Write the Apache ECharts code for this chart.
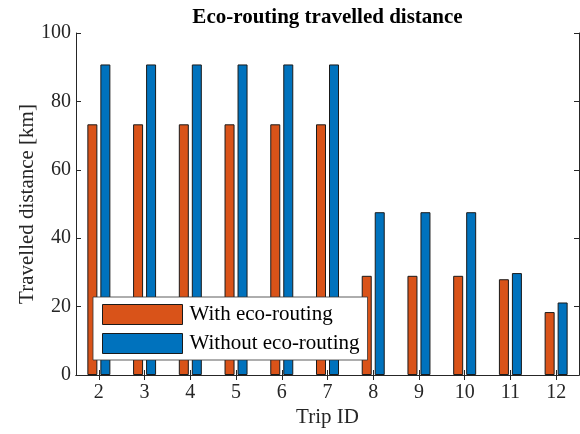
<!DOCTYPE html>
<html>
<head>
<meta charset="utf-8">
<script src="https://cdn.jsdelivr.net/npm/echarts@6/dist/echarts.min.js"></script>
<style>
  html, body { margin: 0; padding: 0; background: #fff; }
  #chart { width: 580px; height: 434px; }
</style>
</head>
<body>
<div id="chart"></div>
<script>
// Trip identifiers along the x axis
const tripIds = ['2', '3', '4', '5', '6', '7', '8', '9', '10', '11', '12'];
// Travelled distance per trip [km]
const withEco = [73.3, 73.3, 73.3, 73.3, 73.3, 73.3, 29.0, 29.0, 29.0, 28.0, 18.4];
const withoutEco = [90.8, 90.8, 90.8, 90.8, 90.8, 90.8, 47.6, 47.6, 47.6, 29.8, 21.2];
// Series names
const seriesNames = ['With eco-routing', 'Without eco-routing'];
const yTicks = { min: 0, max: 100, interval: 20 };

const FONT = '"Liberation Serif", "Times New Roman", serif';
const AXIS_COLOR = '#262626';
const GRID = { left: 76, top: 33, right: 1, bottom: 59 };

const chart = echarts.init(document.getElementById('chart'), null, { renderer: 'canvas' });

const tickStyle = { show: true, inside: true, length: 5, lineStyle: { color: AXIS_COLOR, width: 1 } };
const lineStyle = { show: true, lineStyle: { color: AXIS_COLOR, width: 1 } };

chart.setOption({
  animation: false,
  backgroundColor: '#fff',
  grid: Object.assign({ containLabel: false, outerBoundsMode: 'none' }, GRID),
  graphic: [{
    type: 'text',
    x: GRID.left + (580 - GRID.left - GRID.right) / 2,
    y: 7,
    style: {
      text: 'Eco-routing travelled distance',
      font: 'bold 21px ' + FONT,
      fill: '#000',
      textAlign: 'center',
      textVerticalAlign: 'top'
    }
  }],
  legend: {
    orient: 'vertical',
    left: 93,
    top: 297,
    padding: [7, 8, 6, 9],
    itemWidth: 80,
    itemHeight: 20,
    itemGap: 8,
    icon: 'rect',
    backgroundColor: '#fff',
    borderColor: '#333',
    borderWidth: 0.8,
    textStyle: { fontFamily: FONT, fontSize: 21, lineHeight: 20, color: '#000', padding: [0, 0, 0, 2] },
    itemStyle: { borderColor: '#1a1a1a', borderWidth: 1 },
    data: seriesNames
  },
  xAxis: [{
    type: 'category',
    data: tripIds,
    position: 'bottom',
    name: 'Trip ID',
    nameLocation: 'middle',
    nameGap: 32,
    nameMoveOverlap: false,
    nameTextStyle: { fontFamily: FONT, fontSize: 21, color: AXIS_COLOR },
    axisLine: lineStyle,
    axisTick: Object.assign({ alignWithLabel: true }, tickStyle),
    axisLabel: { fontFamily: FONT, fontSize: 20, color: AXIS_COLOR, margin: 8 },
    splitLine: { show: false }
  }, {
    type: 'category',
    data: tripIds,
    position: 'top',
    axisLine: lineStyle,
    axisTick: Object.assign({ alignWithLabel: true }, tickStyle),
    axisLabel: { show: false },
    splitLine: { show: false }
  }],
  yAxis: [{
    type: 'value',
    min: yTicks.min,
    max: yTicks.max,
    interval: yTicks.interval,
    position: 'left',
    name: 'Travelled distance [km]',
    nameLocation: 'middle',
    nameGap: 38,
    nameMoveOverlap: false,
    nameTextStyle: { fontFamily: FONT, fontSize: 21, color: AXIS_COLOR },
    axisLine: lineStyle,
    axisTick: tickStyle,
    axisLabel: { fontFamily: FONT, fontSize: 20, color: AXIS_COLOR, margin: 5 },
    splitLine: { show: false }
  }, {
    type: 'value',
    min: yTicks.min,
    max: yTicks.max,
    interval: yTicks.interval,
    position: 'right',
    axisLine: lineStyle,
    axisTick: tickStyle,
    axisLabel: { show: false },
    splitLine: { show: false }
  }],
  series: [{
    name: seriesNames[0],
    type: 'bar',
    xAxisIndex: 0,
    yAxisIndex: 0,
    data: withEco,
    barWidth: 10,
    barGap: '30%',
    itemStyle: { color: '#D95319', borderColor: '#1a1a1a', borderWidth: 1 }
  }, {
    name: seriesNames[1],
    type: 'bar',
    xAxisIndex: 0,
    yAxisIndex: 0,
    data: withoutEco,
    barWidth: 10,
    barGap: '30%',
    itemStyle: { color: '#0072BD', borderColor: '#1a1a1a', borderWidth: 1 }
  }]
});
</script>
</body>
</html>
